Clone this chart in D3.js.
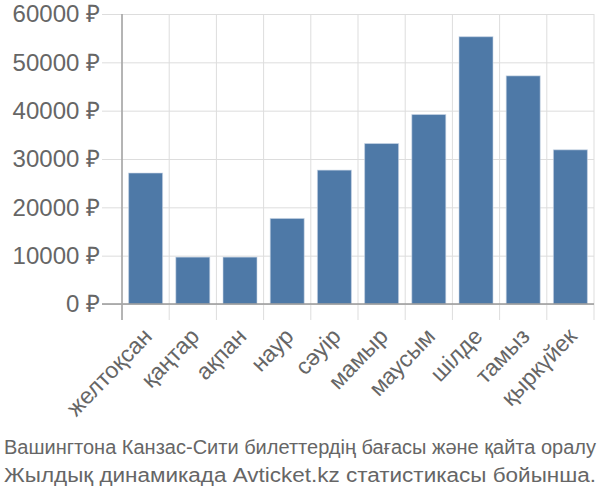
<!DOCTYPE html>
<html><head><meta charset="utf-8">
<script src="https://cdn.jsdelivr.net/npm/d3@7"></script>
<style>body{margin:0;background:#fff}</style>
</head><body>
<script>
const categories = ["желтоқсан","қаңтар","ақпан","наур","сәуір","мамыр","маусым","шілде","тамыз","қыркүйек"];
const values = [27100, 9700, 9700, 17700, 27700, 33200, 39200, 55300, 47200, 31900];
const yTicks = [0, 10000, 20000, 30000, 40000, 50000, 60000];
const titleLines = ["Вашингтона Канзас-Сити билеттердің бағасы және қайта оралу", "Жылдық динамикада Avticket.kz статистикасы бойынша."];

const W = 600, H = 500;
const m = {left:122, right:6, top:14, bottom:196};
const svg = d3.select("body").append("svg").attr("width", W).attr("height", H);
const x = d3.scaleBand().domain(categories).range([m.left, W - m.right]).paddingInner(0.28).paddingOuter(0.14);
const y = d3.scaleLinear().domain([0, 60000]).range([H - m.bottom, m.top]);
const font = "'Liberation Sans', Arial, sans-serif";

// horizontal grid + y ticks
const gy = svg.append("g").attr("transform", `translate(${m.left},0)`)
  .call(d3.axisLeft(y).tickValues(yTicks).tickSize(20).tickFormat(d => d + " ₽"));
gy.select(".domain").remove();
gy.selectAll(".tick line").attr("stroke", "#ddd").attr("stroke-width", 1)
  .attr("x1", 0).attr("x2", W - m.right - m.left)
  .clone().attr("x1", -20).attr("x2", 0);
gy.selectAll(".tick text").attr("x", -22).attr("fill", "#666").attr("font-size", 24).attr("font-family", font);

// vertical grid at band boundaries
const bounds = categories.map(c => x(c) - x.step() * x.paddingInner() / 2).concat([W - m.right]);
svg.append("g").selectAll("line").data(bounds).join("line")
  .attr("x1", d => d).attr("x2", d => d)
  .attr("y1", m.top).attr("y2", H - m.bottom + 16)
  .attr("stroke", (d, i) => i === 0 ? "#aaa" : "#ddd").attr("stroke-width", 1);

// bars
svg.append("g").selectAll("rect").data(values).join("rect")
  .attr("x", (d, i) => x(categories[i]))
  .attr("width", x.bandwidth())
  .attr("y", d => y(d))
  .attr("height", d => y(0) - y(d))
  .attr("fill", "#4e79a7")
  .attr("stroke", "#c9d6e6").attr("stroke-width", 1).attr("stroke-opacity", 0.6);

// baseline
svg.append("line").attr("x1", m.left - 20).attr("x2", W - m.right)
  .attr("y1", y(0)).attr("y2", y(0)).attr("stroke", "#999").attr("stroke-width", 1.5);
// left axis line
svg.append("line").attr("x1", m.left).attr("x2", m.left)
  .attr("y1", m.top).attr("y2", H - m.bottom + 16).attr("stroke", "#aaa").attr("stroke-width", 1.5);

// x labels
const gx = svg.append("g").attr("transform", `translate(0,${H - m.bottom})`)
  .call(d3.axisBottom(x).tickSize(0).tickPadding(0));
gx.select(".domain").remove();
gx.selectAll(".tick text")
  .attr("font-size", 23).attr("font-family", font).attr("fill", "#666")
  .attr("text-anchor", "end").attr("dy", "0.35em")
  .attr("transform", "translate(2,28) rotate(-46)");

// title
svg.append("g").selectAll("text").data(titleLines).join("text")
  .attr("x", 4).attr("y", (d, i) => 454 + i * 28)
  .attr("text-anchor", "start")
  .attr("textLength", 592).attr("lengthAdjust", "spacingAndGlyphs")
  .attr("font-family", font)
  .attr("font-size", 20).attr("fill", "#666")
  .text(d => d);
</script>
</body></html>
